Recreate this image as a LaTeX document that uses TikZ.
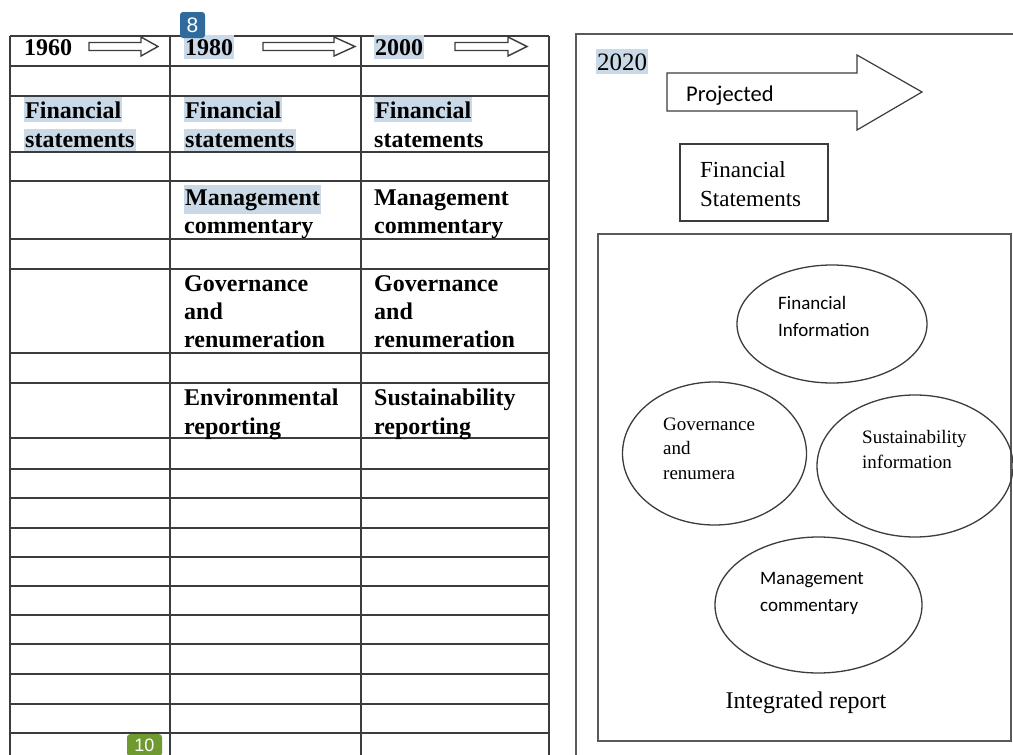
\documentclass[tikz,border=0pt]{standalone}
\usepackage{fontspec}
\setmainfont{Liberation Serif}
\setsansfont{Liberation Sans}
\newfontfamily\carlito{Carlito}
\usetikzlibrary{shapes.geometric}
\definecolor{rulegray}{HTML}{3C3C3C}
\definecolor{hilite}{HTML}{C9D9E8}
\definecolor{badgeblue}{HTML}{2F6A9C}
\definecolor{badgegreen}{HTML}{6E9A30}
\begin{document}
\begin{tikzpicture}[x=1pt,y=-1pt,
  grid/.style={draw=rulegray, line width=1.5pt},
  frame/.style={draw=rulegray!85, line width=1.6pt},
  cell/.style={anchor=base west, inner sep=0pt, font=\fontsize{24}{28}\selectfont\bfseries},
  cellhl/.style={cell, fill=hilite, inner xsep=1pt, inner ysep=4pt},
  hdrarrow/.style={draw=rulegray, line width=1.4pt, fill=white, line join=miter},
  bigarrow/.style={draw=rulegray, line width=1.2pt, fill=white},
  oval/.style={draw=rulegray, line width=1.3pt, ellipse, inner sep=0pt},
  serifsmall/.style={anchor=base west, inner sep=0pt, align=left, font=\fontsize{19}{24.5}\selectfont},
  sanssmall/.style={anchor=base west, inner sep=0pt, align=left, font=\carlito\fontsize{19}{27}\selectfont},
  badge/.style={rounded corners=3pt, inner sep=0pt, text=white}
]
\useasboundingbox (0,0) rectangle (1013,755);

% ---- timeline table ----
\foreach \yy in {36,66,96,152,181,239,269,353,383,438,469,498,528,557,586,615,644,674,704,733}
  \draw[grid] (10,\yy) -- (549,\yy);
\foreach \xx in {10,170,361,549}
  \draw[grid] (\xx,36) -- (\xx,760);

% header years and arrows
\node[cell] (y1960) at (24,55) {1960};
\node[cellhl] (y1980) at (184,55) {1980};
\node[cellhl] (y2000) at (374,55) {2000};
\draw[hdrarrow] (89,42.5) -- (141,42.5) -- (141,37) -- (158,46.5) -- (141,56) -- (141,50.5) -- (89,50.5) -- cycle;
\draw[hdrarrow] (263,42.5) -- (334,42.5) -- (334,37) -- (355,46.5) -- (334,56) -- (334,50.5) -- (263,50.5) -- cycle;
\draw[hdrarrow] (455,42.5) -- (508,42.5) -- (508,37) -- (527,46.5) -- (508,56) -- (508,50.5) -- (455,50.5) -- cycle;

% 1960 column
\node[cellhl] (a1) at (24,118) {Financial};
\node[cellhl] (a2) at (24,147) {statements};

% 1980 column
\node[cellhl] (b1) at (184,118) {Financial};
\node[cellhl] (b2) at (184,147) {statements};
\node[cellhl] (b3) at (184,205) {Management};
\node[cell] (b4) at (184,233) {commentary};
\node[cell] (b5) at (184,291) {Governance};
\node[cell] (b6) at (184,319) {and};
\node[cell] (b7) at (184,347) {renumeration};
\node[cell] (b8) at (184,405) {Environmental};
\node[cell] (b9) at (184,434) {reporting};

% 2000 column
\node[cellhl] (c1) at (374,118) {Financial};
\node[cell] (c2) at (374,147) {statements};
\node[cell] (c3) at (374,205) {Management};
\node[cell] (c4) at (374,233) {commentary};
\node[cell] (c5) at (374,291) {Governance};
\node[cell] (c6) at (374,319) {and};
\node[cell] (c7) at (374,347) {renumeration};
\node[cell] (c8) at (374,405) {Sustainability};
\node[cell] (c9) at (374,434) {reporting};

% ---- 2020 panel ----
\draw[frame] (1020,34) -- (576,34) -- (576,760);
\node[anchor=base west, inner xsep=1pt, inner ysep=4pt, fill=hilite, font=\fontsize{25}{28}\selectfont] (y2020) at (596,70) {2020};

\draw[bigarrow] (667,73) -- (857,73) -- (857,55) -- (922,92) -- (857,130) -- (857,111) -- (667,111) -- cycle;
\node[anchor=base west, inner sep=0pt, font=\carlito\fontsize{22.5}{24}\selectfont] (proj) at (686,101) {Projected};

\node[draw=rulegray, line width=1.3pt, minimum width=148pt, minimum height=77pt, inner sep=0pt] (fsbox) at (754,182.5) {};
\node[anchor=base west, inner sep=0pt, align=left, font=\fontsize{23}{29}\selectfont] (fstext) at (700,206) {Financial\\Statements};

\draw[frame] (598,234) rectangle (1011,741);

\node[oval, minimum width=190pt, minimum height=118pt] (finfo) at (832,324) {};
\node[sanssmall] (finfotext) at (778,336) {Financial\\Information};

\node[oval, minimum width=184pt, minimum height=143pt] (gov) at (714.5,453.5) {};
\node[serifsmall] (govtext) at (663,479) {Governance\\and\\renumera};

\node[oval, minimum width=196pt, minimum height=142pt] (sust) at (915,466) {};
\node[serifsmall] (susttext) at (862,468) {Sustainability\\information};

\node[oval, minimum width=207pt, minimum height=136pt] (mgmt) at (818.5,605) {};
\node[sanssmall] (mgmttext) at (760,611) {Management\\commentary};

\node[anchor=base, inner sep=0pt, font=\fontsize{24}{26}\selectfont] (intrep) at (806,708) {Integrated report};

% ---- page badges ----
\node[badge, fill=badgeblue, minimum width=25pt, minimum height=26pt, font=\sffamily\fontsize{21}{21}\selectfont] (p8) at (192.5,25) {8};
\node[badge, fill=badgegreen, minimum width=35pt, minimum height=22pt, anchor=north, font=\sffamily\fontsize{18}{18}\selectfont] (p10) at (144.5,734) {10};
\end{tikzpicture}
\end{document}
